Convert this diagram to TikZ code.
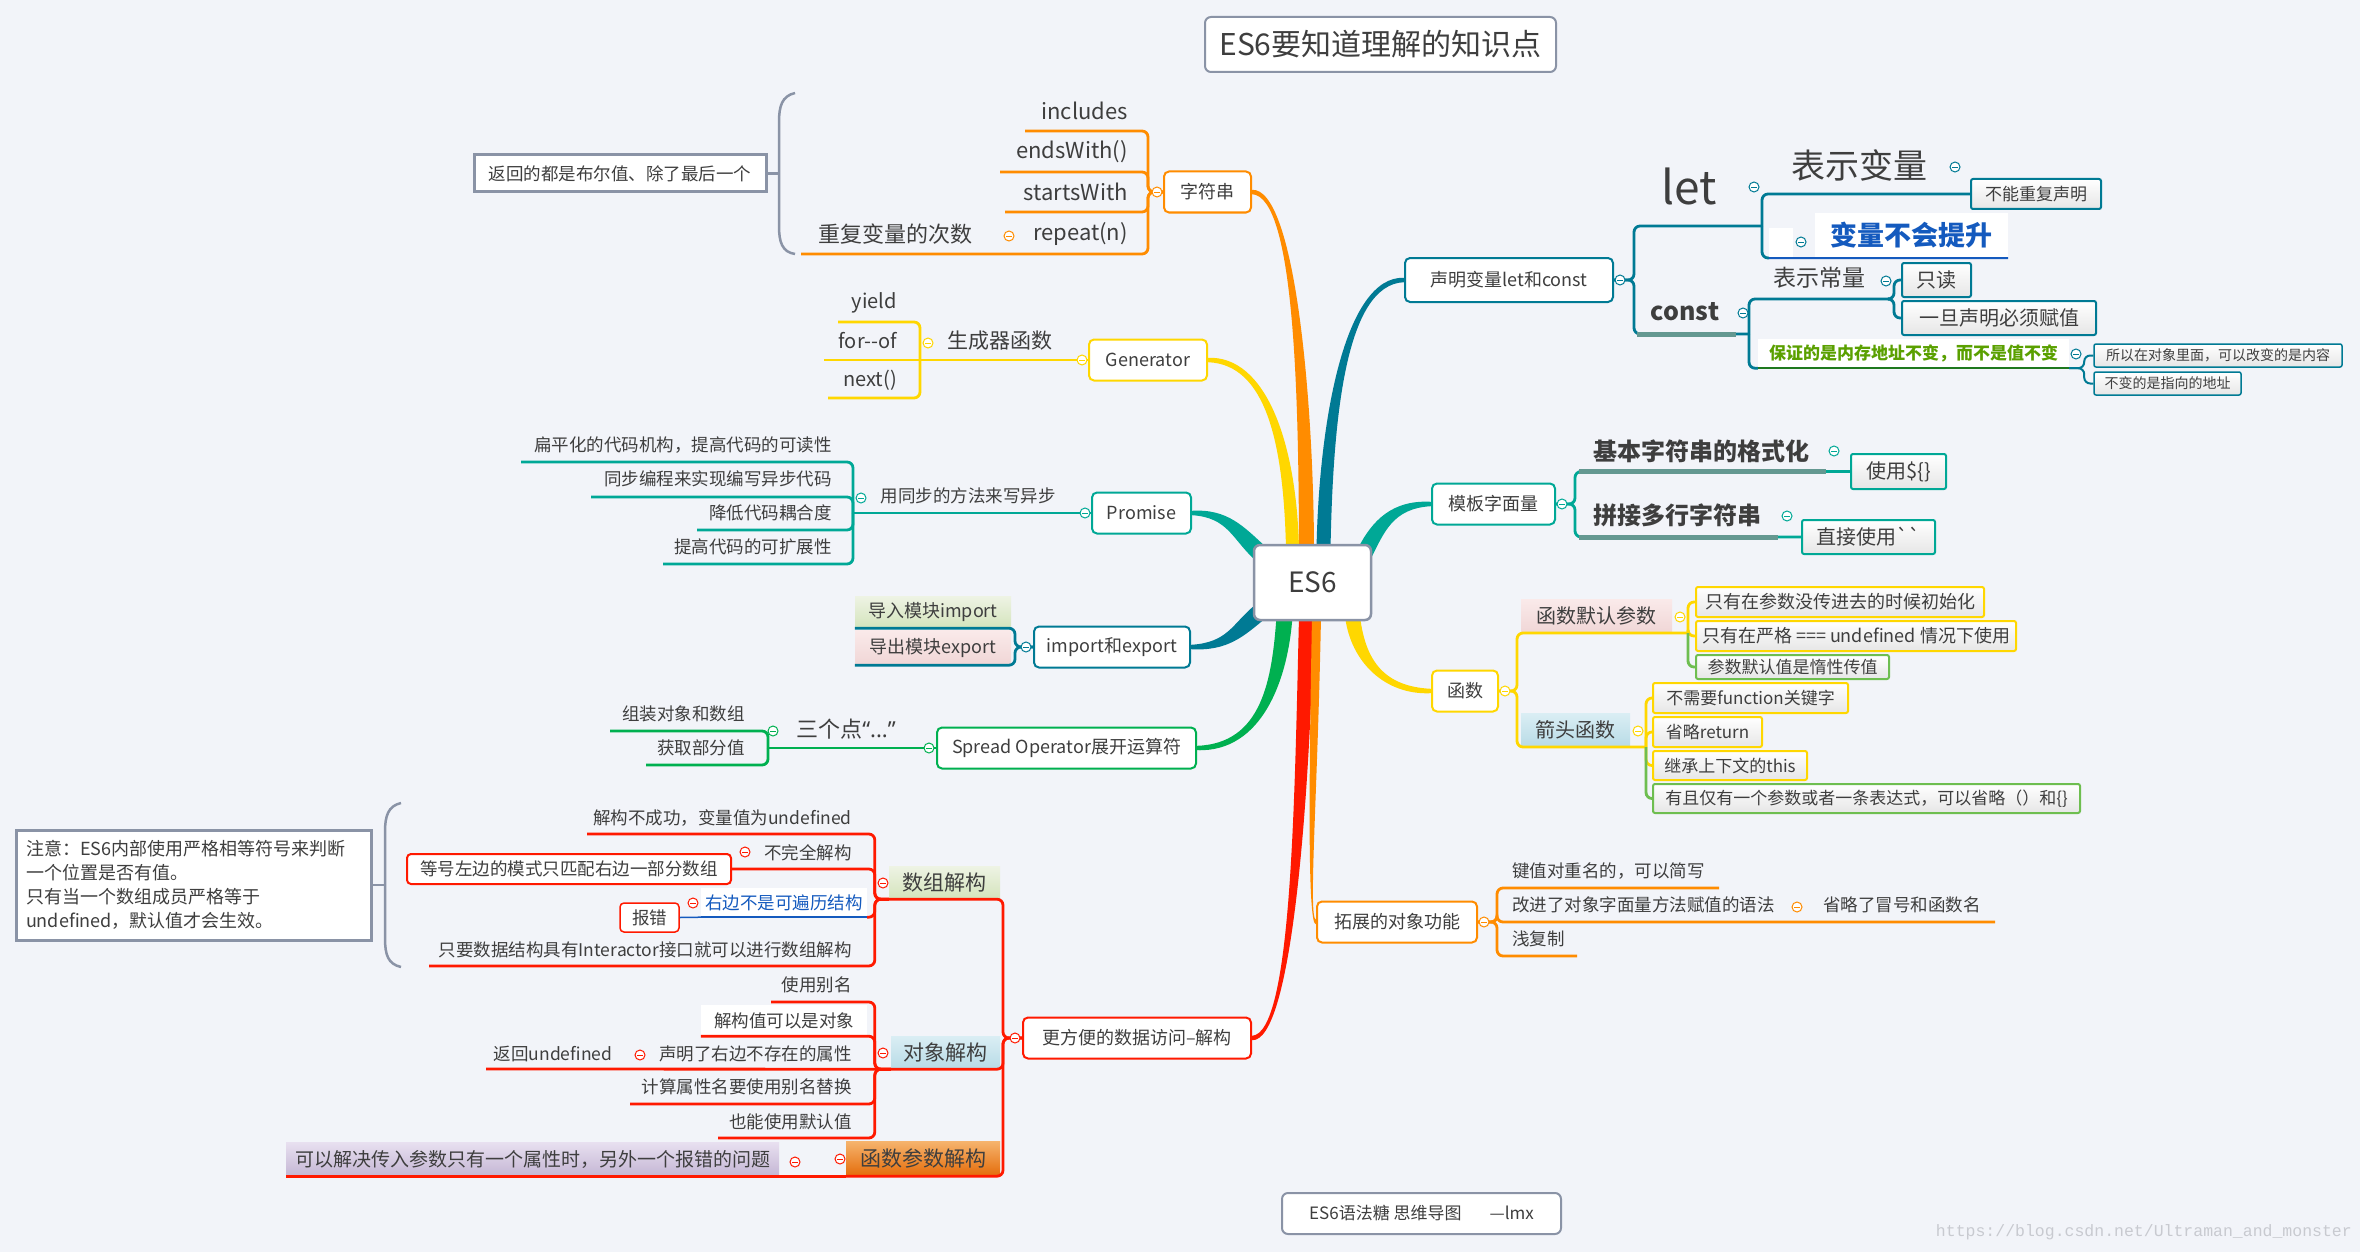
\documentclass[tikz,border=0pt]{standalone}
\usepackage{fontspec}
\setmainfont{Noto Sans CJK SC}
\newfontfamily\rawcjk{Noto Sans CJK SC}
\newfontfamily\latinq{Noto Sans}
\newfontfamily\wmfont{Liberation Mono}
\usetikzlibrary{calc}
\pgfdeclarelayer{back}
\pgfdeclarelayer{bg}
\pgfsetlayers{back,bg,main}
\newcommand\myfs[1]{\fontsize{#1}{#1}\selectfont}
\definecolor{bgc}{RGB}{242,244,249}
\definecolor{txt}{RGB}{62,62,62}
\definecolor{cor}{RGB}{255,140,0}
\definecolor{cye}{RGB}{255,215,0}
\definecolor{cte}{RGB}{0,168,150}
\definecolor{cdt}{RGB}{0,122,148}
\definecolor{cgr}{RGB}{0,176,80}
\definecolor{crd}{RGB}{255,25,0}
\definecolor{grayb}{RGB}{138,147,166}
\definecolor{cblue}{RGB}{20,90,190}
\definecolor{cgtxt}{RGB}{90,160,0}
\definecolor{cgul}{RGB}{30,120,30}
\definecolor{gteal}{RGB}{100,152,145}
\definecolor{cgb}{RGB}{110,190,80}
\definecolor{boxg}{RGB}{230,230,230}
\definecolor{wm}{RGB}{200,202,208}
\definecolor{lg1}{RGB}{238,243,228}
\definecolor{lg2}{RGB}{212,228,188}
\definecolor{lp1}{RGB}{250,234,234}
\definecolor{lp2}{RGB}{240,214,214}
\definecolor{lb1}{RGB}{218,238,244}
\definecolor{lb2}{RGB}{184,219,230}
\definecolor{lo1}{RGB}{246,180,110}
\definecolor{lo2}{RGB}{228,108,10}
\definecolor{lpu1}{RGB}{232,224,240}
\definecolor{lpu2}{RGB}{196,182,212}
\tikzset{
  every node/.style={text=txt},
  topic/.style={draw=#1, line width=2pt, fill=white, rounded corners=5pt, minimum height=41pt, inner sep=0pt, font=\myfs{18}},
  lbl/.style={inner sep=0pt, font=\myfs{#1}},
  lbl/.default=17.5,
  tog/.style={circle, draw=#1, fill=white, line width=1pt, minimum size=10pt, inner sep=0pt,
    path picture={\draw[#1,line width=0.9pt] ([xshift=-2.6pt]path picture bounding box.center) -- ([xshift=2.6pt]path picture bounding box.center);}},
  conn/.style={draw=#1, line width=2.8pt, rounded corners=6pt},
  cbox/.style={draw=#1, line width=2pt, top color=white, bottom color=boxg, rounded corners=2pt, inner sep=0pt, font=\myfs{17}},
  gbox/.style 2 args={top color=#1, bottom color=#2, inner sep=0pt},
  brace/.style={draw=grayb, line width=2.5pt},
  note/.style={draw=grayb, line width=3pt, fill=white, inner sep=0pt},
  frame/.style={draw=grayb, line width=2pt, fill=white, rounded corners=6pt, inner sep=0pt}
}
% colour, start, control 1, control 2, end, start half-width vector, end half-width vector
\newcommand\tbranch[7]{\fill[#1] ($(#2)-(#6)$) .. controls ($(#3)-2*(#6)$) and ($(#4)-(#7)$) .. ($(#5)-(#7)$) -- ($(#5)+(#7)$) .. controls ($(#4)+(#7)$) and ($(#3)+2*(#6)$) .. ($(#2)+(#6)$) -- cycle;}
\begin{document}
\begin{tikzpicture}[x=1pt,y=-1pt]
\useasboundingbox (0,0) rectangle (2360,1252);
\begin{pgfonlayer}{back}
\fill[bgc] (0,0) rectangle (2360,1252);
\end{pgfonlayer}

% title, centre, footer
\node[frame, minimum width=351pt, minimum height=55pt, font=\myfs{30}] (title) at (1380.5,44.5) {ES6要知道理解的知识点};
\node[frame, line width=2.5pt, minimum width=117pt, minimum height=75pt, font=\myfs{28}] (es6) at (1312.5,582.5) {ES6};
\node[frame, minimum width=279pt, minimum height=41pt, font=\myfs{17}] (foot) at (1421.5,1213.5) {ES6语法糖 思维导图\hspace{28pt}---lmx};
\node[inner sep=0pt, anchor=east, text=wm, font=\wmfont\myfs{16.5}] (wmk) at (2352,1232) {https://blog.csdn.net/Ultraman\_and\_monster};

% ---------- 字符串 ----------
\node[topic=cor, minimum width=87pt] (zfc) at (1207.5,192) {字符串};
\node[lbl=22, anchor=east] (inc) at (1128,111) {includes};
\node[lbl=22, anchor=east] (ends) at (1128,152) {endsWith()};
\node[lbl=22, anchor=east] (starts) at (1128,192) {startsWith};
\node[lbl=22, anchor=east] (rep) at (1128,234) {repeat(n)};
\node[lbl=22] (cfcs) at (895,234) {重复变量的次数};
\coordinate (uinc) at (1025,131);
\coordinate (uends) at (1000,172);
\coordinate (ustarts) at (1005,212);
\coordinate (urep) at (801,254);
\draw[conn=cor] (zfc.west) -- ++(-15,0) |- (uinc);
\draw[conn=cor] (zfc.west) -- ++(-15,0) |- (uends);
\draw[conn=cor] (zfc.west) -- ++(-15,0) |- (ustarts);
\draw[conn=cor] (zfc.west) -- ++(-15,0) |- (urep);
\node[note, minimum width=292pt, minimum height=37pt, font=\myfs{17.5}] (note1) at (620,173.5) {返回的都是布尔值、除了最后一个};
\draw[brace] (795,93) .. controls (782,96) and (779,106) .. (779,122) -- (779,226) .. controls (779,242) and (782,252) .. (795,254);
\draw[brace] (note1.east) -- (779,173.5);

% ---------- Generator ----------
\node[topic=cye, minimum width=118pt] (gen) at (1148,360) {Generator};
\node[lbl=21] (scq) at (1000,341) {生成器函数};
\coordinate (uscq) at (920,360);
\draw[conn=cye] (gen.west) -- (uscq);
\node[lbl=20, anchor=east] (yld) at (897,303) {yield};
\node[lbl=20, anchor=east] (forof) at (897,341) {for-\kern0pt-of};
\node[lbl=20, anchor=east] (nxt) at (897,380) {next()};
\draw[conn=cye] (uscq) |- (838,322);
\draw[conn=cye] (uscq) -- (824,360);
\draw[conn=cye] (uscq) |- (828,398);

% ---------- Promise ----------
\node[topic=cte, minimum width=99pt] (prm) at (1141.5,513) {Promise};
\node[lbl] (tbf) at (968,496) {用同步的方法来写异步};
\coordinate (utbf) at (853,513);
\draw[conn=cte] (prm.west) -- (utbf);
\node[lbl, anchor=east] (p1) at (832,445) {扁平化的代码机构，提高代码的可读性};
\node[lbl, anchor=east] (p2) at (832,479) {同步编程来实现编写异步代码};
\node[lbl, anchor=east] (p3) at (832,513) {降低代码耦合度};
\node[lbl, anchor=east] (p4) at (832,547) {提高代码的可扩展性};
\draw[conn=cte] (utbf) |- (521,462);
\draw[conn=cte] (utbf) |- (591,497);
\draw[conn=cte] (utbf) |- (697,530);
\draw[conn=cte] (utbf) |- (663,564);

% ---------- import / export ----------
\node[topic=cdt, minimum width=156pt] (imp) at (1112,647) {import和export};
\node[gbox={lg1}{lg2}, minimum width=156pt, minimum height=32pt, font=\myfs{18}] (imp1) at (933,612) {导入模块import};
\node[gbox={lp1}{lp2}, minimum width=156pt, minimum height=35pt, font=\myfs{18}] (imp2) at (933,647.5) {导出模块export};
\draw[conn=cdt] (imp.west) -- ++(-18,0) |- (imp1.south west);
\draw[conn=cdt] (imp.west) -- ++(-18,0) |- (imp2.south west);

% ---------- Spread ----------
\node[topic=cgr, minimum width=259pt] (spr) at (1066.5,748) {Spread Operator展开运算符};
\node[lbl=22] (sgd) at (846,729) {三个点{\latinq “...”}};
\coordinate (usgd) at (768,748);
\draw[conn=cgr] (spr.west) -- (usgd);
\node[lbl, anchor=east] (s1) at (745,714) {组装对象和数组};
\node[lbl, anchor=east] (s2) at (745,748) {获取部分值};
\draw[conn=cgr] (usgd) |- (610,731);
\draw[conn=cgr] (usgd) |- (646,765);

% ---------- 解构 ----------
\node[topic=crd, minimum width=228pt] (jg) at (1137,1038) {更方便的数据访问–解构};
\node[gbox={lg1}{lg2}, minimum width=111pt, minimum height=33pt, font=\myfs{21}] (szjg) at (944.5,882.5) {数组解构};
\node[gbox={lb1}{lb2}, minimum width=109pt, minimum height=33pt, font=\myfs{21}] (dxjg) at (945.5,1052.5) {对象解构};
\node[gbox={lo1}{lo2}, minimum width=154pt, minimum height=35pt, font=\myfs{21}] (hsjg) at (923,1158.5) {函数参数解构};
\draw[conn=crd] (jg.west) -- ++(-19,0) |- (szjg.south west);
\draw[conn=crd] (jg.west) -- ++(-19,0) |- (dxjg.south west);
\draw[conn=crd] (jg.west) -- ++(-19,0) |- (hsjg.south west);

% 数组解构
\node[lbl, anchor=east] (a1) at (852,818) {解构不成功，变量值为undefined};
\node[lbl, anchor=east] (a2) at (852,853) {不完全解构};
\node[draw=crd, line width=2pt, fill=white, rounded corners=4pt, minimum width=324pt, minimum height=30pt, inner sep=0pt, font=\myfs{17.5}] (a2c) at (569,869) {等号左边的模式只匹配右边一部分数组};
\node[fill=white, minimum width=166pt, minimum height=29pt, inner sep=0pt, text=cblue, font=\myfs{17.5}] (a3) at (784,902.5) {右边不是可遍历结构};
\node[draw=crd, line width=1.5pt, fill=white, rounded corners=4pt, minimum width=59pt, minimum height=29pt, inner sep=0pt, font=\myfs{17.5}] (a3c) at (649.5,917.5) {报错};
\node[lbl, anchor=east] (a4) at (852,950) {只要数据结构具有Interactor接口就可以进行数组解构};
\draw[conn=crd] (szjg.south west) -- ++(-14,0) |- (587,834);
\draw[conn=crd] (szjg.south west) -- ++(-14,0) |- (a2c.east);
\draw[conn=crd] (szjg.south west) -- ++(-14,0) |- (a3.south east);
\draw[conn=crd] (szjg.south west) -- ++(-14,0) |- (429,966);
\draw[cblue, line width=2pt] (a3.south east) -- (a3.south west);
\draw[cblue, line width=1.5pt] (a3c.east) -- (a3.south west);
\node[note, minimum width=355pt, minimum height=110pt, text width=335pt, align=left, font=\fontsize{18}{24}\selectfont] (note2) at (193.5,885) {注意：ES6内部使用严格相等符号来判断\\一个位置是否有值。\\只有当一个数组成员严格等于\\undefined，默认值才会生效。};
\draw[brace] (401,803) .. controls (388,806) and (385,816) .. (385,832) -- (385,938) .. controls (385,955) and (388,964) .. (401,967);
\draw[brace] (note2.east) -- (385,885);

% 对象解构
\node[lbl, anchor=east] (b1) at (852,985) {使用别名};
\node[fill=white, minimum width=166pt, minimum height=31pt, inner sep=0pt, font=\myfs{17.5}] (b2) at (784,1020.5) {解构值可以是对象};
\node[lbl, anchor=east] (b3) at (852,1054) {声明了右边不存在的属性};
\node[lbl] (b3c) at (553,1054) {返回undefined};
\node[lbl, anchor=east] (b4) at (852,1087) {计算属性名要使用别名替换};
\node[lbl, anchor=east] (b5) at (852,1122) {也能使用默认值};
\draw[conn=crd] (dxjg.south west) -- ++(-16,0) |- (771,1002);
\draw[conn=crd] (dxjg.south west) -- ++(-16,0) |- (b2.south west);
\draw[conn=crd] (dxjg.south west) -- (486,1069);
\draw[conn=crd] (dxjg.south west) -- ++(-16,0) |- (630,1104);
\draw[conn=crd] (dxjg.south west) -- ++(-16,0) |- (718,1138);

% 函数参数解构
\node[gbox={lpu1}{lpu2}, minimum width=493pt, minimum height=34pt, font=\myfs{19}] (c1) at (532.5,1159) {可以解决传入参数只有一个属性时，另外一个报错的问题};
\draw[conn=crd] (hsjg.south west) -- (c1.south west);

% ---------- 声明变量 ----------
\node[topic=cdt, minimum width=208pt, minimum height=44pt] (sm) at (1509,280) {声明变量let和const};
\node[lbl=46] (let) at (1689,186) {let};
\coordinate (ulet) at (1762,226);
\draw[conn=cdt] (sm.east) -- ++(20,0) |- (ulet);
\node[inner sep=0pt, font=\bfseries\myfs{25}] (const) at (1685,312) {const};
\coordinate (uconst) at (1749,334);
\draw[conn=cdt] (sm.east) -- ++(20,0) |- (uconst);
\draw[gteal, line width=5pt] (1637,334) -- (1736,334);

\node[lbl=34] (bsbl) at (1859,165) {表示变量};
\node[cbox=cdt, minimum width=130pt, minimum height=30pt] (bnc) at (2036,194) {不能重复声明};
\draw[conn=cdt] (ulet) |- (bnc.west);
\node[fill=white, minimum width=193pt, minimum height=45pt, inner sep=0pt, text=cblue, font=\bfseries\myfs{27}] (blts) at (1911.5,235.5) {变量不会提升};
\node[fill=white, minimum width=24pt, minimum height=29pt, inner sep=0pt] (wp) at (1781,242.5) {};
\coordinate (ubl) at (1769,258);
\draw[conn=cdt] (ulet) |- (ubl);
\draw[cblue, line width=2pt] (ubl) -- (blts.south east);

\node[lbl=23] (bscl) at (1819,278) {表示常量};
\coordinate (ubscl) at (1889,299);
\draw[conn=cdt] (uconst) |- (ubscl);
\node[cbox=cdt, minimum width=69pt, minimum height=34pt, font=\myfs{20}] (zd) at (1936.5,280) {只读};
\node[cbox=cdt, minimum width=194pt, minimum height=34pt, font=\myfs{20}] (ydsm) at (1999,318) {一旦声明必须赋值};
\draw[conn=cdt] (ubscl) -- ++(5,0) |- (zd.west);
\draw[conn=cdt] (ubscl) -- ++(5,0) |- (ydsm.west);

\node[fill=white, minimum width=311pt, minimum height=29pt, inner sep=0pt, text=cgtxt, font=\bfseries\myfs{17}] (bz) at (1913.5,353.5) {保证的是内存地址不变，而不是值不变};
\draw[conn=cdt] (uconst) |- (bz.south west);
\draw[cgul, line width=2pt] (bz.south west) -- (bz.south east);
\node[cbox=cdt, line width=1.5pt, minimum width=248pt, minimum height=23pt, font=\myfs{14}] (sy) at (2218,355.5) {所以在对象里面，可以改变的是内容};
\node[cbox=cdt, line width=1.5pt, minimum width=147pt, minimum height=23pt, font=\myfs{14}] (bbd) at (2167.5,383.5) {不变的是指向的地址};
\draw[conn=cdt, line width=2pt] (bz.south east) -- ++(15,0) |- (sy.west);
\draw[conn=cdt, line width=2pt] (bz.south east) -- ++(15,0) |- (bbd.west);

% ---------- 模板字面量 ----------
\node[topic=cte, minimum width=123pt] (mb) at (1493.5,504) {模板字面量};
\node[inner sep=0pt, font=\bfseries\myfs{24}] (jbz) at (1701,451) {基本字符串的格式化};
\node[cbox=cte, minimum width=95pt, minimum height=35pt, font=\myfs{20}] (syd) at (1898.5,471.5) {使用\$\{\}};
\draw[conn=cte] (mb.east) -- ++(19,0) |- (syd.west);
\draw[gteal, line width=5pt] (1579,471.5) -- (1826,471.5);
\node[inner sep=0pt, font=\bfseries\myfs{24}] (pjd) at (1677,515) {拼接多行字符串};
\node[cbox=cte, minimum width=133pt, minimum height=34pt, font=\myfs{20}] (zjsy) at (1868.5,537) {直接使用{\rawcjk ``}};
\draw[conn=cte] (mb.east) -- ++(19,0) |- (zjsy.west);
\draw[gteal, line width=5pt] (1579,537) -- (1778,537);

% ---------- 函数 ----------
\node[topic=cye, minimum width=66pt] (hs) at (1465,691) {函数};
\node[gbox={lp1}{lp2}, minimum width=151pt, minimum height=34pt, font=\myfs{20}] (hmr) at (1596.5,616) {函数默认参数};
\coordinate (uhmr) at (1688,633);
\draw[conn=cye] (hs.east) -- ++(18,0) |- (uhmr);
\node[cbox=cye, minimum width=288pt, minimum height=30pt, font=\myfs{18}] (h1) at (1840,602) {只有在参数没传进去的时候初始化};
\node[cbox=cye, minimum width=320pt, minimum height=30pt, font=\myfs{18}] (h2) at (1856,636) {只有在严格 === undefined 情况下使用};
\node[cbox=cgb, minimum width=193pt, minimum height=24pt, font=\myfs{17}] (h3) at (1792.5,667) {参数默认值是惰性传值};
\draw[conn=cye] (uhmr) |- (h1.west);
\draw[conn=cye] (uhmr) |- (h2.west);
\draw[conn=cgb] (uhmr) |- (h3.west);

\node[gbox={lb1}{lb2}, minimum width=109pt, minimum height=34pt, font=\myfs{20}] (jt) at (1575.5,730) {箭头函数};
\coordinate (ujt) at (1646,747);
\draw[conn=cye] (hs.east) -- ++(18,0) |- (ujt);
\node[cbox=cye, minimum width=195pt, minimum height=30pt] (j1) at (1750.5,698) {不需要function关键字};
\node[cbox=cye, minimum width=109pt, minimum height=30pt] (j2) at (1707.5,732) {省略return};
\node[cbox=cye, minimum width=154pt, minimum height=29pt] (j3) at (1730,765.5) {继承上下文的this};
\node[cbox=cgb, minimum width=427pt, minimum height=29pt] (j4) at (1866.5,798.5) {有且仅有一个参数或者一条表达式，可以省略（）和\{\}};
\draw[conn=cye] (ujt) |- (j1.west);
\draw[conn=cye] (ujt) |- (j2.west);
\draw[conn=cye] (ujt) |- (j3.west);
\draw[conn=cgb] (ujt) |- (j4.west);

% ---------- 拓展的对象功能 ----------
\node[topic=cor, minimum width=160pt] (tz) at (1397,922) {拓展的对象功能};
\node[lbl, anchor=west] (k1) at (1512,871) {键值对重名的，可以简写};
\node[lbl, anchor=west] (k2) at (1512,905) {改进了对象字面量方法赋值的语法};
\node[lbl, anchor=west] (k2c) at (1823,905) {省略了冒号和函数名};
\node[lbl, anchor=west] (k3) at (1512,939) {浅复制};
\draw[conn=cor] (tz.east) -- ++(19,0) |- (1719,888);
\draw[conn=cor] (tz.east) -- ++(19,0) |- (1995,922);
\draw[conn=cor] (tz.east) -- ++(19,0) |- (1577,956);

% ---------- main tapered branches ----------
\coordinate (e1) at ($(es6.north)+(-6,5)$);
\coordinate (e2) at ($(es6.north)+(-20,5)$);
\coordinate (e3) at ($(es6.north)+(11,5)$);
\coordinate (e4) at ($(es6.north west)+(8,10)$);
\coordinate (e5) at ($(es6.south west)+(8,-10)$);
\coordinate (e6) at ($(es6.south)+(-28,-5)$);
\coordinate (e7) at ($(es6.south)+(-6,-5)$);
\coordinate (e8) at ($(es6.south)+(4,-5)$);
\coordinate (e9) at ($(es6.north east)+(-8,10)$);
\coordinate (e10) at ($(es6.south)+(40,-5)$);
\begin{pgfonlayer}{bg}
\tbranch{cor}{zfc.east}{1295,192}{1306,400}{e1}{0,-2.2}{7.5,0}
\tbranch{cye}{gen.east}{1265,360}{1290,440}{e2}{0,-2.2}{6.5,0}
\tbranch{cdt}{sm.west}{1345,280}{1326,420}{e3}{0,2.2}{7,0}
\tbranch{cte}{prm.east}{1228,513}{1238,533}{e4}{0,-2.2}{6,-6}
\tbranch{cdt}{imp.east}{1228,647}{1238,630}{e5}{0,-2.2}{-6,-6}
\tbranch{cgr}{spr.east}{1262,748}{1280,680}{e6}{0,-2.2}{-8,0}
\tbranch{crd}{jg.east}{1292,1038}{1302,800}{e7}{0,-2.2}{-7.5,0}
\tbranch{cor}{tz.west}{1308,922}{1313,800}{e8}{0,2.2}{-4.5,0}
\tbranch{cte}{mb.west}{1392,504}{1378,527}{e9}{0,2.2}{6,6}
\tbranch{cye}{hs.west}{1385,691}{1358,662}{e10}{0,2.2}{-7.5,0}
\end{pgfonlayer}

% ---------- toggles ----------
\node[tog=cor] (t1) at (1157,192) {};
\node[tog=cor] (t2) at (1009,236) {};
\node[tog=cye] (t3) at (1082,360) {};
\node[tog=cye] (t4) at (928,343) {};
\node[tog=cte] (t5) at (1085,513) {};
\node[tog=cte] (t6) at (861,498) {};
\node[tog=cdt] (t7) at (1026,647) {};
\node[tog=cgr] (t8) at (929,748) {};
\node[tog=cgr] (t9) at (773,731) {};
\node[tog=crd] (t10) at (1015,1038) {};
\node[tog=crd] (t11) at (883,883) {};
\node[tog=crd] (t12) at (745,852) {};
\node[tog=crd] (t13) at (693,903) {};
\node[tog=crd] (t14) at (883,1053) {};
\node[tog=crd] (t15) at (640,1055) {};
\node[tog=crd] (t16) at (840,1159) {};
\node[tog=crd] (t17) at (795,1162) {};
\node[tog=cdt] (t18) at (1620,280) {};
\node[tog=cdt] (t19) at (1754,187) {};
\node[tog=cdt] (t20) at (1955,167) {};
\node[tog=cdt] (t21) at (1801,242) {};
\node[tog=cdt] (t22) at (1743,313) {};
\node[tog=cdt] (t23) at (1886,281) {};
\node[tog=cdt] (t24) at (2076,354) {};
\node[tog=cte] (t25) at (1562,504) {};
\node[tog=cte] (t26) at (1834,451) {};
\node[tog=cte] (t27) at (1787,516) {};
\node[tog=cye] (t28) at (1505,691) {};
\node[tog=cye] (t29) at (1680,617) {};
\node[tog=cye] (t30) at (1638,731) {};
\node[tog=cor] (t31) at (1484,922) {};
\node[tog=cor] (t32) at (1797,907) {};
\end{tikzpicture}
\end{document}
